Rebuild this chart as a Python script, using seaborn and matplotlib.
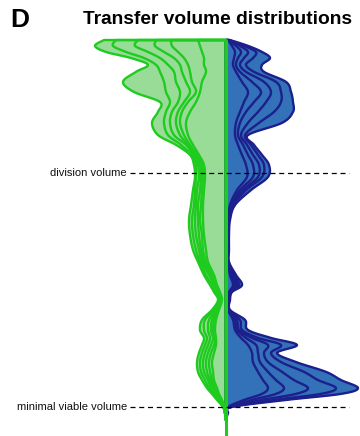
import numpy as np
import pandas as pd
import matplotlib
matplotlib.use("Agg")
import matplotlib.pyplot as plt
import seaborn as sns

# volume levels (1 = minimal viable volume, 2 = division volume)
volume = [2.568, 2.543, 2.517, 2.491, 2.462, 2.432, 2.389, 2.346, 2.303, 2.261,
          2.214, 2.162, 2.120, 2.077, 2.034, 1.983, 1.927, 1.863, 1.799, 1.735,
          1.671, 1.620, 1.564, 1.521, 1.491, 1.457, 1.415, 1.372, 1.329, 1.295,
          1.265, 1.231, 1.192, 1.150, 1.115, 1.081, 1.056, 1.030, 1.000, 0.974,
          0.944]

# left half (green) densities, one list per run
green_runs = [
    [122, 131, 120, 95, 78, 90, 103, 92, 66, 68, 74, 68, 50, 36, 32, 31, 33, 35, 37, 36,
     33, 28, 22, 16, 12, 8, 14, 24, 26, 22, 24, 27, 29, 28, 24, 19, 14, 9, 3, 1, 0],
    [110, 113, 100, 82, 70, 66, 62, 60, 56, 60, 62, 58, 45, 35, 30, 30, 31, 32, 34, 33,
     30, 26, 20, 14, 10, 7, 12, 21, 22, 19, 21, 24, 26, 25, 21, 17, 12, 8, 3, 1, 0],
    [88, 91, 78, 66, 58, 52, 50, 46, 48, 54, 56, 52, 40, 33, 28, 27, 29, 30, 31, 30,
     27, 24, 17, 12, 9, 6, 10, 17, 18, 16, 18, 21, 23, 22, 18, 15, 11, 7, 2, 1, 0],
    [70, 71, 62, 52, 46, 44, 40, 36, 42, 48, 50, 46, 38, 31, 26, 25, 26, 28, 28, 27,
     25, 22, 15, 11, 8, 5, 9, 14, 15, 13, 15, 18, 20, 19, 16, 13, 10, 6, 2, 1, 0],
    [55, 54, 48, 42, 38, 36, 34, 30, 38, 44, 46, 42, 36, 29, 24, 23, 24, 25, 26, 24,
     23, 20, 14, 10, 7, 5, 8, 12, 13, 11, 12, 15, 17, 16, 14, 11, 8, 5, 2, 1, 0],
    [28, 26, 24, 22, 22, 20, 24, 26, 30, 36, 40, 38, 33, 27, 22, 21, 22, 23, 23, 22,
     20, 18, 12, 9, 6, 4, 7, 10, 11, 10, 10, 12, 14, 13, 12, 9, 7, 4, 1.5, 1, 0],
]

# right half (blue) densities
blue_runs = [
    [4, 22, 36, 44, 36, 38, 60, 65, 67, 67, 56, 22, 28, 36, 43, 42, 25, 9, 4, 3,
     3, 3, 10, 16, 6, 4, 4, 19, 22, 45, 71, 51, 70, 100, 115, 132, 115, 60, 6, 2, 0],
    [3, 18, 30, 27, 20, 28, 50, 55, 55, 48, 33, 19, 25, 32, 38, 36, 20, 7, 3, 2.5,
     2.5, 2.5, 8, 13, 5, 3, 3, 14, 16, 32, 55, 45, 55, 78, 92, 110, 95, 48, 5, 1.5, 0],
    [3, 14, 22, 18, 14, 20, 38, 45, 40, 32, 22, 15, 21, 27, 33, 32, 17, 6, 3, 2,
     2, 2, 6, 11, 4, 3, 3, 11, 13, 26, 42, 38, 42, 56, 68, 82, 70, 36, 4, 1, 0],
    [2, 10, 15, 12, 10, 14, 26, 35, 28, 20, 14, 12, 17, 22, 27, 27, 14, 5, 2.5, 2,
     2, 2, 5, 9, 3.5, 2.5, 2.5, 9, 11, 20, 30, 32, 34, 42, 50, 58, 50, 26, 3, 1, 0],
    [2, 6, 9, 8, 7, 10, 16, 22, 18, 14, 10, 9, 12, 16, 20, 21, 11, 4, 2, 1.5,
     1.5, 1.5, 4, 7, 3, 2, 2, 7, 9, 15, 22, 26, 27, 32, 37, 42, 36, 18, 2, 1, 0],
]

reference_volumes = [2.0, 1.0]
reference_labels = ["division volume", "minimal viable volume"]


def smooth_outline(w, v, n=10):
    # Catmull-Rom through the read points, only to draw a rounder curve
    P = np.column_stack([w, v]).astype(float)
    P = np.vstack([P[0], P, P[-1]])
    t = np.linspace(0, 1, n, endpoint=False)[:, None]
    out = []
    for i in range(1, len(P) - 2):
        p0, p1, p2, p3 = P[i - 1], P[i], P[i + 1], P[i + 2]
        seg = 0.5 * ((2 * p1) + (-p0 + p2) * t + (2 * p0 - 5 * p1 + 4 * p2 - p3) * t ** 2
                     + (-p0 + 3 * p1 - 3 * p2 + p3) * t ** 3)
        out.append(seg)
    out.append(P[-2][None, :])
    out = np.vstack(out)
    return np.clip(out[:, 0], 0, None), out[:, 1]


sns.set_style("white")
plt.rcParams['font.family'] = ['Liberation Sans', 'DejaVu Sans']
plt.rcParams['text.color'] = 'black'

GREEN_FILL, GREEN_EDGE = "#98dc98", "#1ecb1e"
BLUE_FILL, BLUE_EDGE = "#3372b9", "#1c1f8c"

fig = plt.figure(figsize=(3.6, 4.36), dpi=100)
ax = fig.add_axes([0, 0, 1, 1])
v = np.array(volume)

# fills first, outlines after, so crossing outlines stay visible
for runs, sign, fc in [(green_runs, -1, GREEN_FILL), (blue_runs, 1, BLUE_FILL)]:
    for w in runs:
        sw, sv = smooth_outline(w, v)
        ax.fill_betweenx(sv, sign * sw, 0, facecolor=fc, linewidth=0)
for runs, sign, ec in [(blue_runs, 1, BLUE_EDGE), (green_runs, -1, GREEN_EDGE)]:
    for w in runs:
        sw, sv = smooth_outline(w, v)
        ax.fill_betweenx(sv, sign * sw, 0, facecolor="none",
                         edgecolor=ec, linewidth=1.7, joinstyle="round")

ax.set_xlim(-226, 134)
ax.set_ylim(0.876, 2.739)

# central green axis line
ax.vlines(0, ax.get_ylim()[0], v.max(), color=GREEN_EDGE, linewidth=2.2, zorder=3)

for rv, lab in zip(reference_volumes, reference_labels):
    ax.hlines(rv, -96, 123, color="black", linestyle=(0, (4, 3)), linewidth=0.9, zorder=4)
    ax.text(-99, rv, lab, ha="right", va="center", fontsize=8, color="#111111")

ax.set_axis_off()
fig.text(0.028, 0.953, "D", fontsize=19, fontweight="bold", va="center", ha="left",
         color="black")
fig.text(0.603, 0.955, "Transfer volume distributions", fontsize=13.8,
         fontweight="bold", va="center", ha="center", color="black")

fig.savefig("out.png", dpi=100)
